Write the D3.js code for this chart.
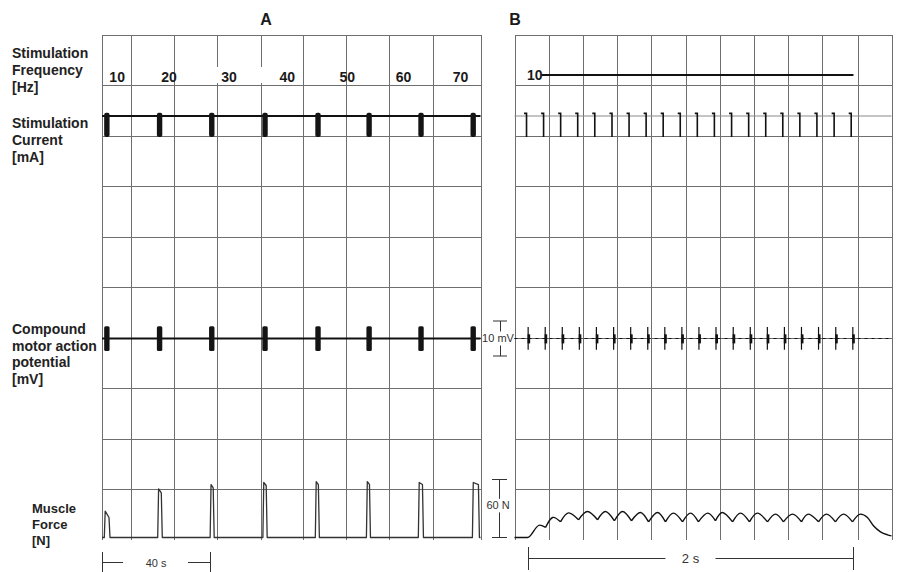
<!DOCTYPE html>
<html><head><meta charset="utf-8">
<script src="https://cdn.jsdelivr.net/npm/d3@7"></script>
<style>body{margin:0;background:#fff}svg{display:block;font-family:"Liberation Sans",Arial,sans-serif}</style>
</head><body><svg id="c" width="898" height="572"></svg>
<script>
// ---------- DATA ----------
const panelTitles = ["A", "B"];
const rowLabelsFreq = ["Stimulation", "Frequency", "[Hz]"];
const rowLabelsCurrent = ["Stimulation", "Current", "[mA]"];
const rowLabelsCmap = ["Compound", "motor action", "potential", "[mV]"];
const rowLabelsForce = ["Muscle", "Force", "[N]"];

// Panel A (time in s)
const gridTimesA = [10.74, 26.67, 42.59, 58.9, 74.4, 90.4, 106.3, 122.6];
const freqLabelsA = ["10", "20", "30", "40", "50", "60", "70"];
const freqLabelTimesA = [5.6, 24.8, 47.0, 68.5, 90.7, 111.5, 132.6];
const freqLabelMaskedA = [false, false, true, true, false, false, false];
const trainOnsetA = [0.8, 20.3, 39.6, 59.3, 78.9, 97.8, 117.0, 136.3];
const trainDurationA = 2; // s
const forceRiseA = [0.85, 20.6, 40.0, 59.5, 78.9, 97.8, 117.0, 137.0];
const forceFallA = [2.96, 22.3, 41.5, 61.1, 80.4, 99.3, 118.9, 139.6];
const forcePeakA = [27.2, 50.4, 54.8, 56.9, 57.9, 57.9, 56.9, 56.9];
const forceEndA = [20.7, 46.2, 51.4, 53.8, 54.8, 55.0, 54.8, 54.8];

// Panel B (time in s)
const gridTimesB = [0.212, 0.422, 0.631, 0.843, 1.055, 1.262, 1.471, 1.686, 1.895, 2.111];
const freqLabelB = "10";
const freqLineB = [0.166, 2.086];
const pulseTimesB = [0.074, 0.179, 0.284, 0.389, 0.494, 0.600, 0.705, 0.810, 0.915, 1.020,
                     1.125, 1.230, 1.336, 1.441, 1.546, 1.651, 1.756, 1.861, 1.967, 2.072];
const cmapLatencyB = 0.01;
const forceTimeB = [0, 0.080, 0.154, 0.191, 0.234, 0.283, 0.332, 0.394, 0.449, 0.511, 0.560, 0.615,
  0.665, 0.720, 0.775, 0.825, 0.880, 0.929, 0.978, 1.034, 1.083, 1.132, 1.188, 1.237, 1.280, 1.342,
  1.391, 1.446, 1.495, 1.557, 1.606, 1.655, 1.711, 1.766, 1.809, 1.871, 1.920, 1.975, 2.025, 2.080,
  2.129, 2.172, 2.209, 2.252, 2.295, 2.320];
const forceValueB = [0, 0, 12.8, 10.4, 20.7, 16.2, 25.5, 18.3, 26.9, 18.3, 26.9, 17.3, 26.9, 17.3,
  25.9, 16.2, 25.9, 16.2, 25.2, 16.2, 25.2, 16.2, 25.2, 17.3, 25.9, 16.2, 25.2, 16.2, 25.2, 16.2,
  24.2, 16.2, 24.2, 16.2, 24.2, 16.2, 24.2, 16.2, 24.2, 16.2, 24.2, 20.6, 12.1, 5.9, 2.8, 1.7];

// Pulse shapes (units)
const pulseCurrent = [3, -20];      // mA
const cmapBlockA = [3.5, -3.6];     // mV
const cmapSpikeB = [3.3, -3.2];     // mV
// Scale bars
const scaleTimeA = [0, 40], scaleTimeALabel = "40 s";
const scaleTimeB = [0.086, 2.086], scaleTimeBLabel = "2 s";
const scaleMV = [-5, 5], scaleMVLabel = "10 mV";
const scaleN = [0, 60], scaleNLabel = "60 N";

// ---------- SCALES ----------
const svg = d3.select("#c");
const xA = d3.scaleLinear().domain([0, 140]).range([102, 480.5]);
const xB = d3.scaleLinear().domain([0, 2.32]).range([514.5, 891.5]);
const yRow = d3.scaleLinear().domain([0, 10]).range([34.5, 540]);
const yCur = d3.scaleLinear().domain([0, -20]).range([116, 137]);
const yMV = d3.scaleLinear().domain([0, 10]).range([338.5, 303.5]);
const yN = d3.scaleLinear().domain([0, 60]).range([537.5, 479.5]);
const px = v => Math.round(v) + 0.5;

// ---------- GRID ----------
function grid(x, times) {
  const g = svg.append("g").attr("stroke", "#6e6e6e").attr("stroke-width", 1)
    .attr("shape-rendering", "crispEdges");
  const [d0, d1] = x.domain();
  d3.range(0, 10).forEach(r => {
    g.append("line").attr("x1", x(d0)).attr("x2", x(d1))
      .attr("y1", px(yRow(r))).attr("y2", px(yRow(r)));
  });
  [d0, ...times, d1].forEach(t => {
    g.append("line").attr("x1", px(x(t))).attr("x2", px(x(t)))
      .attr("y1", yRow(0)).attr("y2", yRow(10));
  });
}
grid(xA, gridTimesA);
grid(xB, gridTimesB);

// ---------- TITLES / LABELS ----------
svg.append("text").attr("x", 266).attr("y", 25).attr("text-anchor", "middle")
  .attr("font-size", 16).attr("font-weight", "bold").attr("fill", "#1a1a1a").text(panelTitles[0]);
svg.append("text").attr("x", 515).attr("y", 25).attr("text-anchor", "middle")
  .attr("font-size", 16).attr("font-weight", "bold").attr("fill", "#1a1a1a").text(panelTitles[1]);

function block(lines, x, y0, lh, size) {
  const t = svg.append("text").attr("font-size", size).attr("font-weight", "bold").attr("fill", "#222");
  lines.forEach((s, i) => t.append("tspan").attr("x", x).attr("y", y0 + i * lh).text(s));
}
block(rowLabelsFreq, 12, 58, 17.2, 14);
block(rowLabelsCurrent, 12, 128, 16.8, 14);
block(rowLabelsCmap, 12, 334, 16.7, 14);
block(rowLabelsForce, 32, 513, 15.8, 13);

// Frequency labels A
freqLabelsA.forEach((s, i) => {
  const t = svg.append("text").attr("x", xA(freqLabelTimesA[i])).attr("y", 81.5)
    .attr("text-anchor", "middle").attr("font-size", 14).attr("font-weight", "bold")
    .attr("fill", "#1a1a1a").text(s);
  if (freqLabelMaskedA[i]) {
    const b = t.node().getBBox();
    svg.insert("rect", () => t.node()).attr("x", b.x - 20).attr("y", 67)
      .attr("width", b.width + 22).attr("height", 16).attr("fill", "#fff");
  }
});
// Frequency B
svg.append("line").attr("x1", xB(freqLineB[0])).attr("x2", xB(freqLineB[1]))
  .attr("y1", 75).attr("y2", 75).attr("stroke", "#111").attr("stroke-width", 2);
svg.append("text").attr("x", xB(freqLineB[0]) + 1).attr("y", 80).attr("text-anchor", "end")
  .attr("font-size", 14).attr("font-weight", "bold").attr("fill", "#1a1a1a").text(freqLabelB);

// ---------- STIMULATION CURRENT ----------
svg.append("line").attr("x1", xA(0)).attr("x2", xA(140)).attr("y1", yCur(0)).attr("y2", yCur(0))
  .attr("stroke", "#111").attr("stroke-width", 2);
svg.append("g").selectAll("rect").data(trainOnsetA).join("rect")
  .attr("x", d => xA(d)).attr("width", d => xA(d + trainDurationA) - xA(d))
  .attr("y", yCur(pulseCurrent[0])).attr("height", yCur(pulseCurrent[1]) - yCur(pulseCurrent[0]))
  .attr("rx", 2).attr("fill", "#141414");

svg.append("line").attr("x1", xB(0)).attr("x2", xB(2.32)).attr("y1", yCur(0)).attr("y2", yCur(0))
  .attr("stroke", "#8a8a8a").attr("stroke-width", 1);
svg.append("g").selectAll("path").data(pulseTimesB).join("path")
  .attr("d", d => `M${xB(d) - 2.5},${yCur(pulseCurrent[0]) + 0.5}H${xB(d)}V${yCur(pulseCurrent[1])}`)
  .attr("fill", "none").attr("stroke", "#111").attr("stroke-width", 1.6);

// ---------- CMAP ----------
svg.append("line").attr("x1", xA(0)).attr("x2", xA(140)).attr("y1", yMV(0)).attr("y2", yMV(0))
  .attr("stroke", "#111").attr("stroke-width", 2);
svg.append("g").selectAll("rect").data(trainOnsetA).join("rect")
  .attr("x", d => xA(d)).attr("width", d => xA(d + trainDurationA) - xA(d))
  .attr("y", yMV(cmapBlockA[0])).attr("height", yMV(cmapBlockA[1]) - yMV(cmapBlockA[0]))
  .attr("rx", 1.5).attr("fill", "#141414");

svg.append("line").attr("x1", xB(0)).attr("x2", xB(2.32)).attr("y1", yMV(0)).attr("y2", yMV(0))
  .attr("stroke", "#666").attr("stroke-width", 1.2);
svg.append("line").attr("x1", xB(0)).attr("x2", xB(2.32)).attr("y1", yMV(0)).attr("y2", yMV(0))
  .attr("stroke", "#111").attr("stroke-width", 1.2).attr("stroke-dasharray", "3,4");
const spikes = svg.append("g");
pulseTimesB.forEach(t => {
  const x = xB(t + cmapLatencyB);
  spikes.append("line").attr("x1", x).attr("x2", x).attr("y1", yMV(cmapSpikeB[0])).attr("y2", yMV(cmapSpikeB[1]))
    .attr("stroke", "#111").attr("stroke-width", 1.2);
  spikes.append("rect").attr("x", x - 0.6).attr("width", 2.6).attr("y", yMV(1.2)).attr("height", yMV(-1.4) - yMV(1.2))
    .attr("fill", "#111");
});

// ---------- MUSCLE FORCE ----------
const ptsA = [[xA(0), yN(0)]];
forceRiseA.forEach((r, i) => {
  ptsA.push([xA(r), yN(0)], [xA(r) + 0.9, yN(forcePeakA[i])],
            [xA(forceFallA[i]) - 1, yN(forceEndA[i])], [xA(forceFallA[i]), yN(0)]);
});
ptsA.push([xA(140), yN(0)]);
svg.append("path").attr("d", d3.line()(ptsA)).attr("fill", "none")
  .attr("stroke", "#333").attr("stroke-width", 1.3).attr("stroke-linejoin", "round");

const ptsB = forceTimeB.map((t, i) => [xB(t), yN(forceValueB[i])]);
let dB = d3.line().curve(d3.curveMonotoneX)(ptsB.slice(0, 4));
for (let k = 3; k < 39; k += 2) dB += d3.line().curve(d3.curveNatural)(ptsB.slice(k, k + 3));
dB += d3.line().curve(d3.curveMonotoneX)(ptsB.slice(39));
svg.append("path").attr("d", dB).attr("fill", "none").attr("stroke", "#111")
  .attr("stroke-width", 1.4).attr("stroke-linejoin", "round");

// ---------- SCALE BARS ----------
const sb = svg.append("g").attr("stroke", "#333").attr("stroke-width", 1).attr("fill", "none");
const txt = (x, y, s, size) => svg.append("text").attr("x", x).attr("y", y).attr("text-anchor", "middle")
  .attr("font-size", size).attr("fill", "#333").text(s);
// 40 s
{
  const a = xA(scaleTimeA[0]), b = xA(scaleTimeA[1]), m = (a + b) / 2, y = 562.5;
  sb.append("path").attr("d", `M${px(a)},552V572M${px(b)},552V572M${a},${y}H${m - 33}M${m + 32},${y}H${b}`);
  txt(m, 566.5, scaleTimeALabel, 11);
}
// 2 s
{
  const a = xB(scaleTimeB[0]), b = xB(scaleTimeB[1]), m = 690.5, y = 558.5;
  sb.append("path").attr("d", `M${px(a)},547V570M${px(b)},547V570M${a},${y}H${m - 25}M${m + 25},${y}H${b}`);
  txt(m, 563, scaleTimeBLabel, 13);
}
// 10 mV
{
  const x = 500.5, t = yMV(scaleMV[1]), b = yMV(scaleMV[0]);
  sb.append("path").attr("d", `M493,${t}H507M${x},${t}V${yMV(2)}M${x},${yMV(-2)}V${b}M493,${b}H507`);
  svg.append("rect").attr("x", 484).attr("y", 332).attr("width", 28).attr("height", 12).attr("fill", "#fff");
  txt(498, 342, scaleMVLabel, 11);
}
// 60 N
{
  const x = 499.5, t = yN(scaleN[1]), b = yN(scaleN[0]);
  sb.append("path").attr("d", `M492,${t}H507M${x},${t}V${yN(40)}M${x},${yN(26)}V${b}M492,${b}H507`);
  txt(498, 509, scaleNLabel, 11);
}
</script></body></html>
